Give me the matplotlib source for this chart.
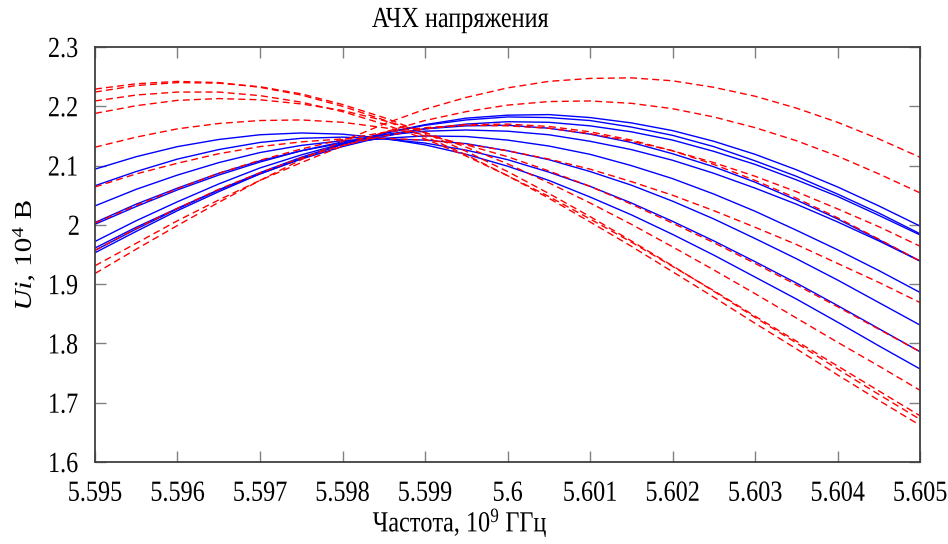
import matplotlib
matplotlib.use('Agg')
from matplotlib import pyplot as plt
from matplotlib.ticker import FormatStrFormatter
from matplotlib.patheffects import AbstractPathEffect
from matplotlib.transforms import Affine2D

plt.rcParams['font.family'] = ['Liberation Serif', 'DejaVu Serif']
plt.rcParams['mathtext.fontset'] = 'custom'
plt.rcParams['mathtext.rm'] = 'Liberation Serif'
plt.rcParams['mathtext.it'] = 'Liberation Serif:italic'


class Squeeze(AbstractPathEffect):
    """Сжатие глифов вдоль строки (sx) и поперёк (sy) относительно середины."""

    def __init__(self, sx=1.0, sy=1.0):
        super().__init__()
        self.sx, self.sy = sx, sy

    def draw_path(self, renderer, gc, tpath, affine, rgbFace=None):
        ext = tpath.get_extents()
        cx = 0.5 * (ext.x0 + ext.x1)
        t = Affine2D().translate(-cx, 0).scale(self.sx, self.sy).translate(cx, 0)
        renderer.draw_path(gc, tpath, t + affine, rgbFace)


# частоты, 10^9 (шаг 0.0005)
freq = [5.5950, 5.5955, 5.5960, 5.5965, 5.5970, 5.5975, 5.5980, 5.5985, 5.5990, 5.5995,
        5.6000, 5.6005, 5.6010, 5.6015, 5.6020, 5.6025, 5.6030, 5.6035, 5.6040, 5.6045,
        5.6050]

# расчётные кривые (сплошные синие)
u_calc = [
    [1.953, 1.989, 2.024, 2.056, 2.086, 2.112, 2.136, 2.155, 2.169, 2.180, 2.185,
     2.186, 2.181, 2.172, 2.159, 2.141, 2.119, 2.093, 2.064, 2.032, 1.998],
    [1.957, 1.993, 2.027, 2.059, 2.088, 2.114, 2.136, 2.154, 2.168, 2.177, 2.182,
     2.181, 2.176, 2.165, 2.151, 2.132, 2.108, 2.082, 2.052, 2.020, 1.985],
    [1.961, 1.996, 2.028, 2.059, 2.086, 2.111, 2.132, 2.149, 2.162, 2.170, 2.174,
     2.173, 2.167, 2.157, 2.143, 2.124, 2.102, 2.076, 2.048, 2.016, 1.983],
    [1.972, 2.007, 2.039, 2.069, 2.096, 2.118, 2.137, 2.152, 2.162, 2.167, 2.168,
     2.163, 2.153, 2.139, 2.120, 2.098, 2.072, 2.042, 2.010, 1.975, 1.939],
    [2.001, 2.031, 2.059, 2.084, 2.106, 2.125, 2.140, 2.151, 2.158, 2.160, 2.158,
     2.152, 2.141, 2.127, 2.109, 2.087, 2.062, 2.035, 2.005, 1.973, 1.939],
    [2.004, 2.035, 2.062, 2.087, 2.108, 2.125, 2.138, 2.146, 2.150, 2.149, 2.143,
     2.133, 2.119, 2.100, 2.078, 2.052, 2.023, 1.991, 1.958, 1.923, 1.886],
    [2.032, 2.060, 2.084, 2.105, 2.122, 2.134, 2.142, 2.145, 2.143, 2.137, 2.125,
     2.110, 2.090, 2.067, 2.040, 2.010, 1.977, 1.943, 1.907, 1.869, 1.831],
    [2.066, 2.090, 2.111, 2.127, 2.139, 2.146, 2.148, 2.145, 2.138, 2.126, 2.110,
     2.089, 2.065, 2.037, 2.006, 1.973, 1.938, 1.902, 1.864, 1.825, 1.786],
    [2.094, 2.115, 2.132, 2.144, 2.152, 2.155, 2.153, 2.146, 2.135, 2.119, 2.099,
     2.075, 2.047, 2.017, 1.984, 1.949, 1.912, 1.875, 1.836, 1.796, 1.757],
]

# кривые с разбросом параметров (красный пунктир)
u_var = [
    [1.918, 1.959, 1.999, 2.038, 2.075, 2.110, 2.141, 2.170, 2.195, 2.215, 2.231,
     2.242, 2.247, 2.248, 2.243, 2.232, 2.217, 2.197, 2.173, 2.145, 2.114],
    [1.931, 1.969, 2.007, 2.042, 2.075, 2.105, 2.133, 2.156, 2.176, 2.191, 2.202,
     2.208, 2.209, 2.205, 2.196, 2.182, 2.164, 2.142, 2.116, 2.086, 2.054],
    [1.957, 1.994, 2.028, 2.060, 2.088, 2.113, 2.134, 2.150, 2.162, 2.169, 2.170,
     2.166, 2.157, 2.143, 2.125, 2.102, 2.075, 2.045, 2.012, 1.976, 1.939],
    [2.003, 2.033, 2.061, 2.087, 2.109, 2.128, 2.144, 2.156, 2.164, 2.168, 2.167,
     2.163, 2.154, 2.141, 2.125, 2.105, 2.082, 2.056, 2.027, 1.997, 1.964],
    [2.064, 2.086, 2.104, 2.120, 2.132, 2.140, 2.145, 2.146, 2.143, 2.136, 2.125,
     2.111, 2.094, 2.073, 2.050, 2.024, 1.996, 1.967, 1.935, 1.903, 1.869],
    [2.131, 2.148, 2.162, 2.171, 2.176, 2.177, 2.173, 2.164, 2.152, 2.135, 2.115,
     2.091, 2.065, 2.035, 2.003, 1.970, 1.935, 1.899, 1.862, 1.824, 1.786],
    [2.188, 2.201, 2.210, 2.213, 2.211, 2.204, 2.193, 2.176, 2.156, 2.131, 2.103,
     2.071, 2.037, 2.001, 1.963, 1.924, 1.884, 1.843, 1.802, 1.762, 1.721],
    [2.209, 2.219, 2.224, 2.224, 2.218, 2.207, 2.191, 2.170, 2.145, 2.116, 2.083,
     2.048, 2.010, 1.971, 1.930, 1.889, 1.846, 1.804, 1.762, 1.720, 1.678],
    [2.224, 2.235, 2.240, 2.239, 2.233, 2.221, 2.203, 2.181, 2.155, 2.124, 2.090,
     2.053, 2.014, 1.973, 1.931, 1.888, 1.844, 1.801, 1.757, 1.714, 1.672],
    [2.229, 2.238, 2.242, 2.240, 2.232, 2.219, 2.200, 2.177, 2.149, 2.118, 2.083,
     2.045, 2.005, 1.964, 1.921, 1.878, 1.834, 1.791, 1.747, 1.704, 1.662],
]

xticks = [5.595, 5.596, 5.597, 5.598, 5.599, 5.6, 5.601, 5.602, 5.603, 5.604, 5.605]
yticks = [1.6, 1.7, 1.8, 1.9, 2.0, 2.1, 2.2, 2.3]

fs = 21
narrow = [Squeeze(0.83, 1.0)]        # узкий шрифт для горизонтальных надписей
narrow_rot = [Squeeze(1.0, 0.83)]    # то же для повёрнутой подписи оси Y

fig = plt.figure(figsize=(9.48, 5.44), dpi=100)
ax = fig.add_axes([0.1002, 0.1507, 0.8703, 0.7629])

for u in u_calc:
    ax.plot(freq, u, '-', color='#0000ff', lw=1.0)
for u in u_var:
    ax.plot(freq, u, '--', color='#ff0000', lw=1.0, dashes=(5, 3))

ax.set_xlim(5.595, 5.605)
ax.set_ylim(1.6, 2.3)
ax.set_xticks(xticks)
ax.set_yticks(yticks)
ax.xaxis.set_major_formatter(FormatStrFormatter('%g'))
ax.yaxis.set_major_formatter(FormatStrFormatter('%g'))
ax.tick_params(direction='in', length=8, width=1, color='#808080',
               top=True, right=True, labelsize=fs)
ax.tick_params(axis='x', pad=13.5)
ax.tick_params(axis='y', pad=10)
for t in ax.xaxis.get_major_ticks() + ax.yaxis.get_major_ticks():
    t.label1.set_path_effects(narrow)
for s in ax.spines.values():
    s.set_color('#404040')
    s.set_linewidth(1.3)

fig.text(460 / 948, 1 - 20 / 544, 'АЧХ напряжения', fontsize=fs,
         ha='center', va='center', path_effects=narrow)
fig.text(460 / 948, 1 - 523 / 544, 'Частота, 10$^9$ ГГц', fontsize=fs,
         ha='center', va='center', path_effects=narrow)
fig.text(22 / 948, 1 - 255 / 544, '$Ui$, 10$^4$ В', fontsize=fs, rotation=90,
         ha='center', va='center', path_effects=narrow_rot)

fig.savefig('out.png', dpi=100)
